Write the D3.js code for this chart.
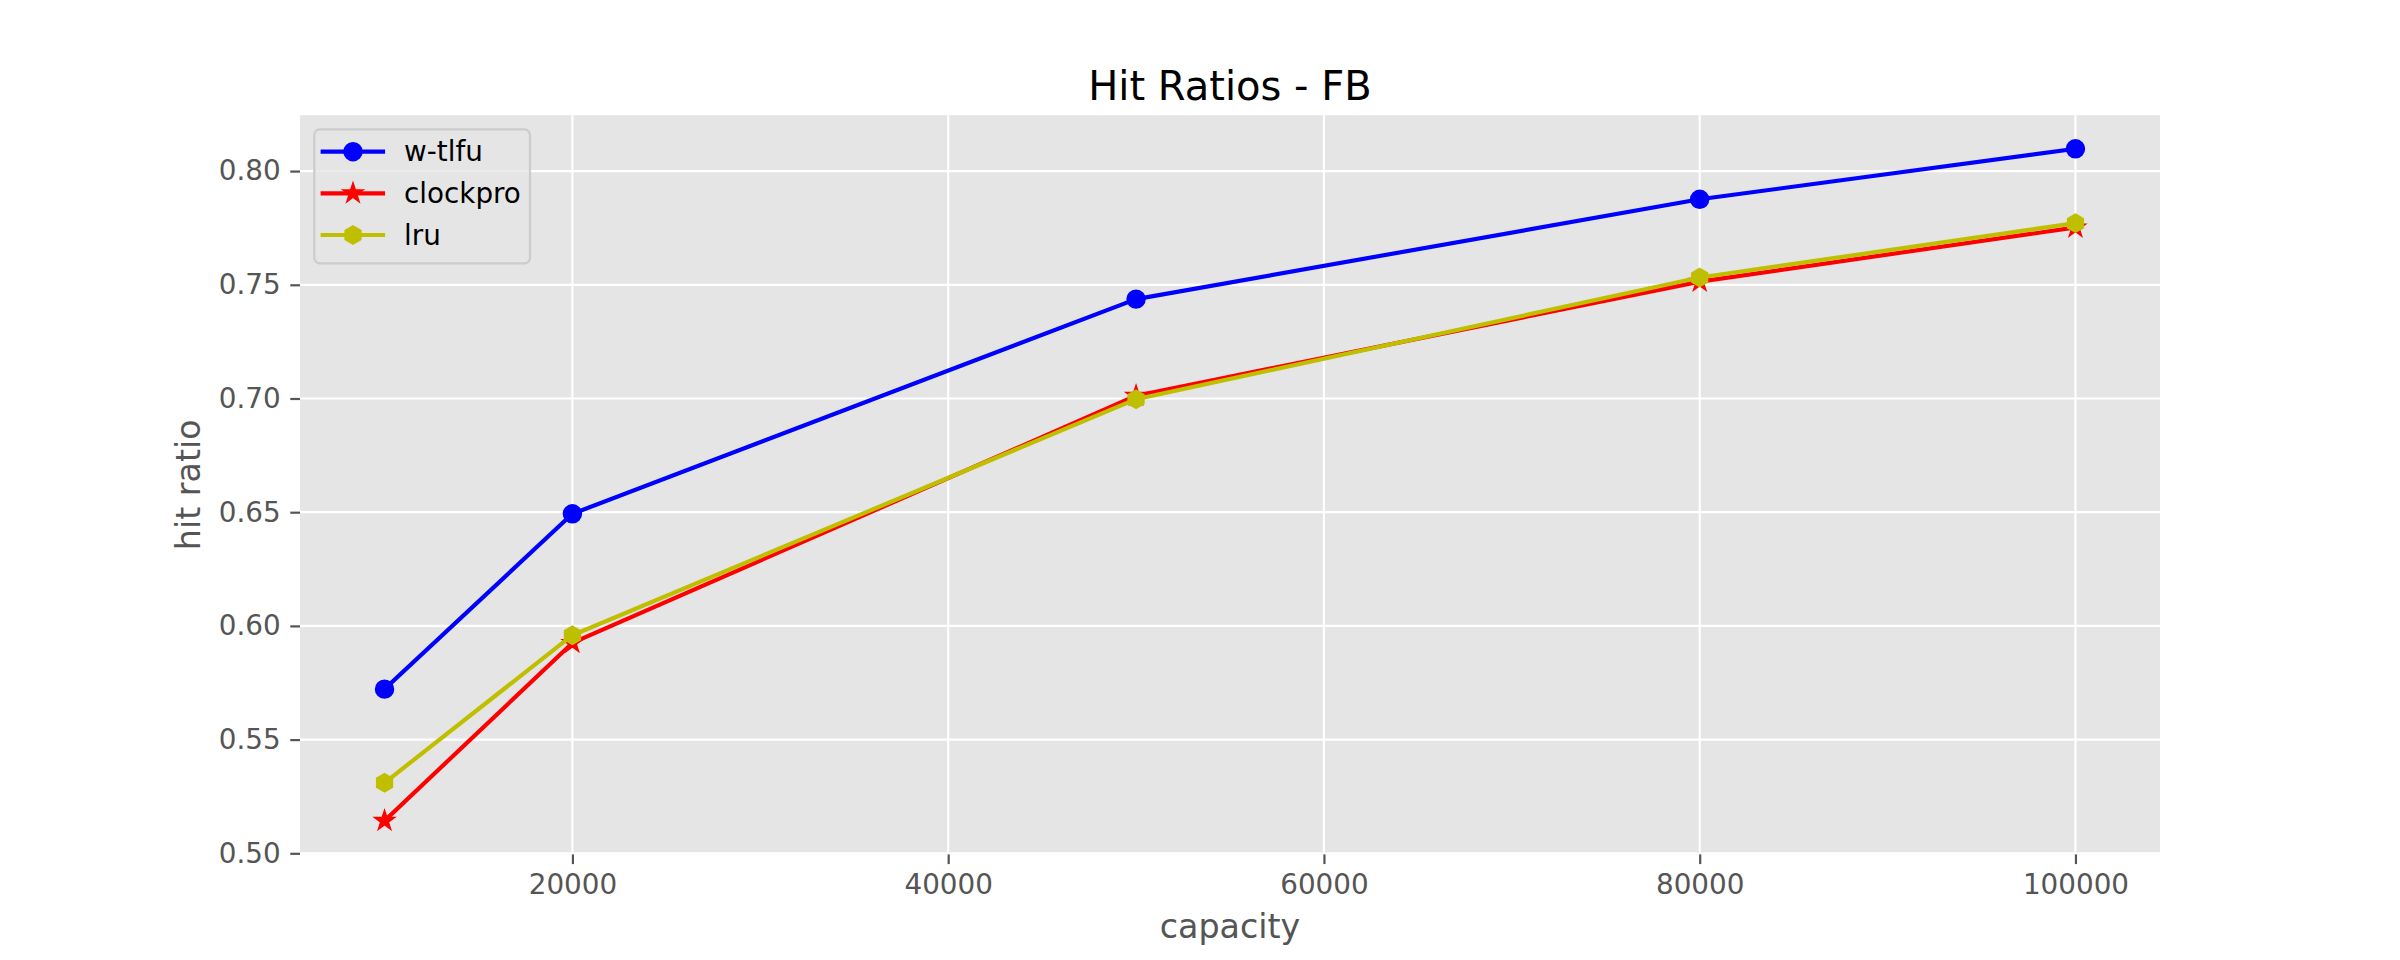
<!DOCTYPE html>
<html>
<head>
<meta charset="utf-8">
<script src="https://cdn.jsdelivr.net/npm/d3@7"></script>
<style>
  html, body { margin: 0; padding: 0; background: #ffffff; }
  svg { display: block; }
  text { font-family: "DejaVu Sans", sans-serif; }
</style>
</head>
<body>
<svg id="chart" width="2400" height="960"></svg>
<script>
// ---- data ----
const capacities = [10000, 20000, 50000, 80000, 100000];
const wtlfu    = [0.5722, 0.6493, 0.7437, 0.7876, 0.8098];
const clockpro = [0.5143, 0.5925, 0.7012, 0.7514, 0.7752];
const lru      = [0.5310, 0.5959, 0.6997, 0.7532, 0.7771];
const seriesNames = ["w-tlfu", "clockpro", "lru"];
const xTicks = [20000, 40000, 60000, 80000, 100000];
const yTicks = [0.50, 0.55, 0.60, 0.65, 0.70, 0.75, 0.80];

const series = [
  { name: seriesNames[0], values: wtlfu,    color: "#0000ff", marker: "circle" },
  { name: seriesNames[1], values: clockpro, color: "#ff0000", marker: "star" },
  { name: seriesNames[2], values: lru,      color: "#bfbf00", marker: "hexagon" }
];

// ---- layout ----
const pLeft = 300, pRight = 2160, pTop = 115.2, pBottom = 854.4;
const svg = d3.select("#chart");

function margins(vals) {
  const mn = d3.min(vals), mx = d3.max(vals), d = (mx - mn) * 0.05;
  return [mn - d, mx + d];
}
const x = d3.scaleLinear().domain(margins(capacities)).range([pLeft, pRight]);
const allY = [].concat(wtlfu, clockpro, lru);
const y = d3.scaleLinear().domain(margins(allY)).range([pBottom, pTop]);

// background
svg.append("rect").attr("x", pLeft).attr("y", pTop)
  .attr("width", pRight - pLeft).attr("height", pBottom - pTop).attr("fill", "#e5e5e5");

// grid
const g = svg.append("g");
g.selectAll("line.gx").data(xTicks).join("line").attr("class", "gx")
  .attr("x1", d => x(d)).attr("x2", d => x(d)).attr("y1", pTop).attr("y2", pBottom)
  .attr("stroke", "#ffffff").attr("stroke-width", 2.2);
g.selectAll("line.gy").data(yTicks).join("line").attr("class", "gy")
  .attr("y1", d => y(d)).attr("y2", d => y(d)).attr("x1", pLeft).attr("x2", pRight)
  .attr("stroke", "#ffffff").attr("stroke-width", 2.2);

// axes
const xAxis = d3.axisBottom(x).tickValues(xTicks).tickFormat(d3.format("d"))
  .tickSize(9.7).tickPadding(9.7);
const yAxis = d3.axisLeft(y).tickValues(yTicks).tickFormat(d3.format(".2f"))
  .tickSize(9.7).tickPadding(9.7);
const gx = svg.append("g").attr("transform", `translate(0,${pBottom})`).call(xAxis);
const gy = svg.append("g").attr("transform", `translate(${pLeft},0)`).call(yAxis);
[gx, gy].forEach(a => {
  a.select(".domain").remove();
  a.selectAll(".tick line").attr("stroke", "#555555").attr("stroke-width", 2.2);
  a.selectAll(".tick text").attr("fill", "#555555").attr("font-size", 27.8)
    .attr("font-family", "DejaVu Sans");
});

// marker paths
const MS = 16.7; // marker size in px
function markerPath(type, s) {
  const r = s / 2;
  if (type === "circle") {
    return `M${r},0A${r},${r} 0 1,1 ${-r},0A${r},${r} 0 1,1 ${r},0Z`;
  }
  let pts = [];
  if (type === "hexagon") {
    for (let i = 0; i < 6; i++) {
      const a = -Math.PI / 2 + i * Math.PI / 3;
      pts.push([r * Math.cos(a), r * Math.sin(a)]);
    }
  } else if (type === "star") {
    const ri = r * 0.381966;
    for (let i = 0; i < 10; i++) {
      const a = -Math.PI / 2 + i * Math.PI / 5;
      const rr = i % 2 === 0 ? r : ri;
      pts.push([rr * Math.cos(a), rr * Math.sin(a)]);
    }
  }
  return "M" + pts.map(p => p[0].toFixed(3) + "," + p[1].toFixed(3)).join("L") + "Z";
}

// series
const line = d3.line().x(d => x(d[0])).y(d => y(d[1]));
series.forEach(s => {
  const pts = capacities.map((c, i) => [c, s.values[i]]);
  svg.append("path").attr("d", line(pts)).attr("fill", "none")
    .attr("stroke", s.color).attr("stroke-width", 4.17)
    .attr("stroke-linejoin", "round").attr("stroke-linecap", "square");
  svg.append("g").selectAll("path").data(pts).join("path")
    .attr("transform", d => `translate(${x(d[0])},${y(d[1])})`)
    .attr("d", markerPath(s.marker, MS))
    .attr("fill", s.color).attr("stroke", s.color).attr("stroke-width", 2.78)
    .attr("stroke-linejoin", "miter");
});

// legend
const lg = svg.append("g");
lg.append("rect").attr("x", 314.3).attr("y", 129.3).attr("width", 215.7).attr("height", 134)
  .attr("rx", 5.5).attr("ry", 5.5)
  .attr("fill", "#e5e5e5").attr("fill-opacity", 0.8)
  .attr("stroke", "#cccccc").attr("stroke-width", 2.2);
const rowY = [151.7, 193.3, 235];
series.forEach((s, i) => {
  const yy = rowY[i];
  lg.append("line").attr("x1", 322.7).attr("x2", 383).attr("y1", yy).attr("y2", yy)
    .attr("stroke", s.color).attr("stroke-width", 4.17).attr("stroke-linecap", "square");
  lg.append("path").attr("transform", `translate(353,${yy})`)
    .attr("d", markerPath(s.marker, MS))
    .attr("fill", s.color).attr("stroke", s.color).attr("stroke-width", 2.78);
  lg.append("text").attr("x", 404).attr("y", yy).attr("dy", "0.35em")
    .attr("font-size", 27.8).attr("fill", "#000000").text(s.name);
});

// title & labels
svg.append("text").attr("x", (pLeft + pRight) / 2).attr("y", 100)
  .attr("text-anchor", "middle").attr("font-size", 40).attr("fill", "#000000")
  .text("Hit Ratios - FB");
svg.append("text").attr("x", (pLeft + pRight) / 2).attr("y", 938)
  .attr("text-anchor", "middle").attr("font-size", 33.3).attr("fill", "#555555")
  .text("capacity");
svg.append("text").attr("transform", `translate(200,${(pTop + pBottom) / 2}) rotate(-90)`)
  .attr("text-anchor", "middle").attr("font-size", 33.3).attr("fill", "#555555")
  .text("hit ratio");
</script>
</body>
</html>
